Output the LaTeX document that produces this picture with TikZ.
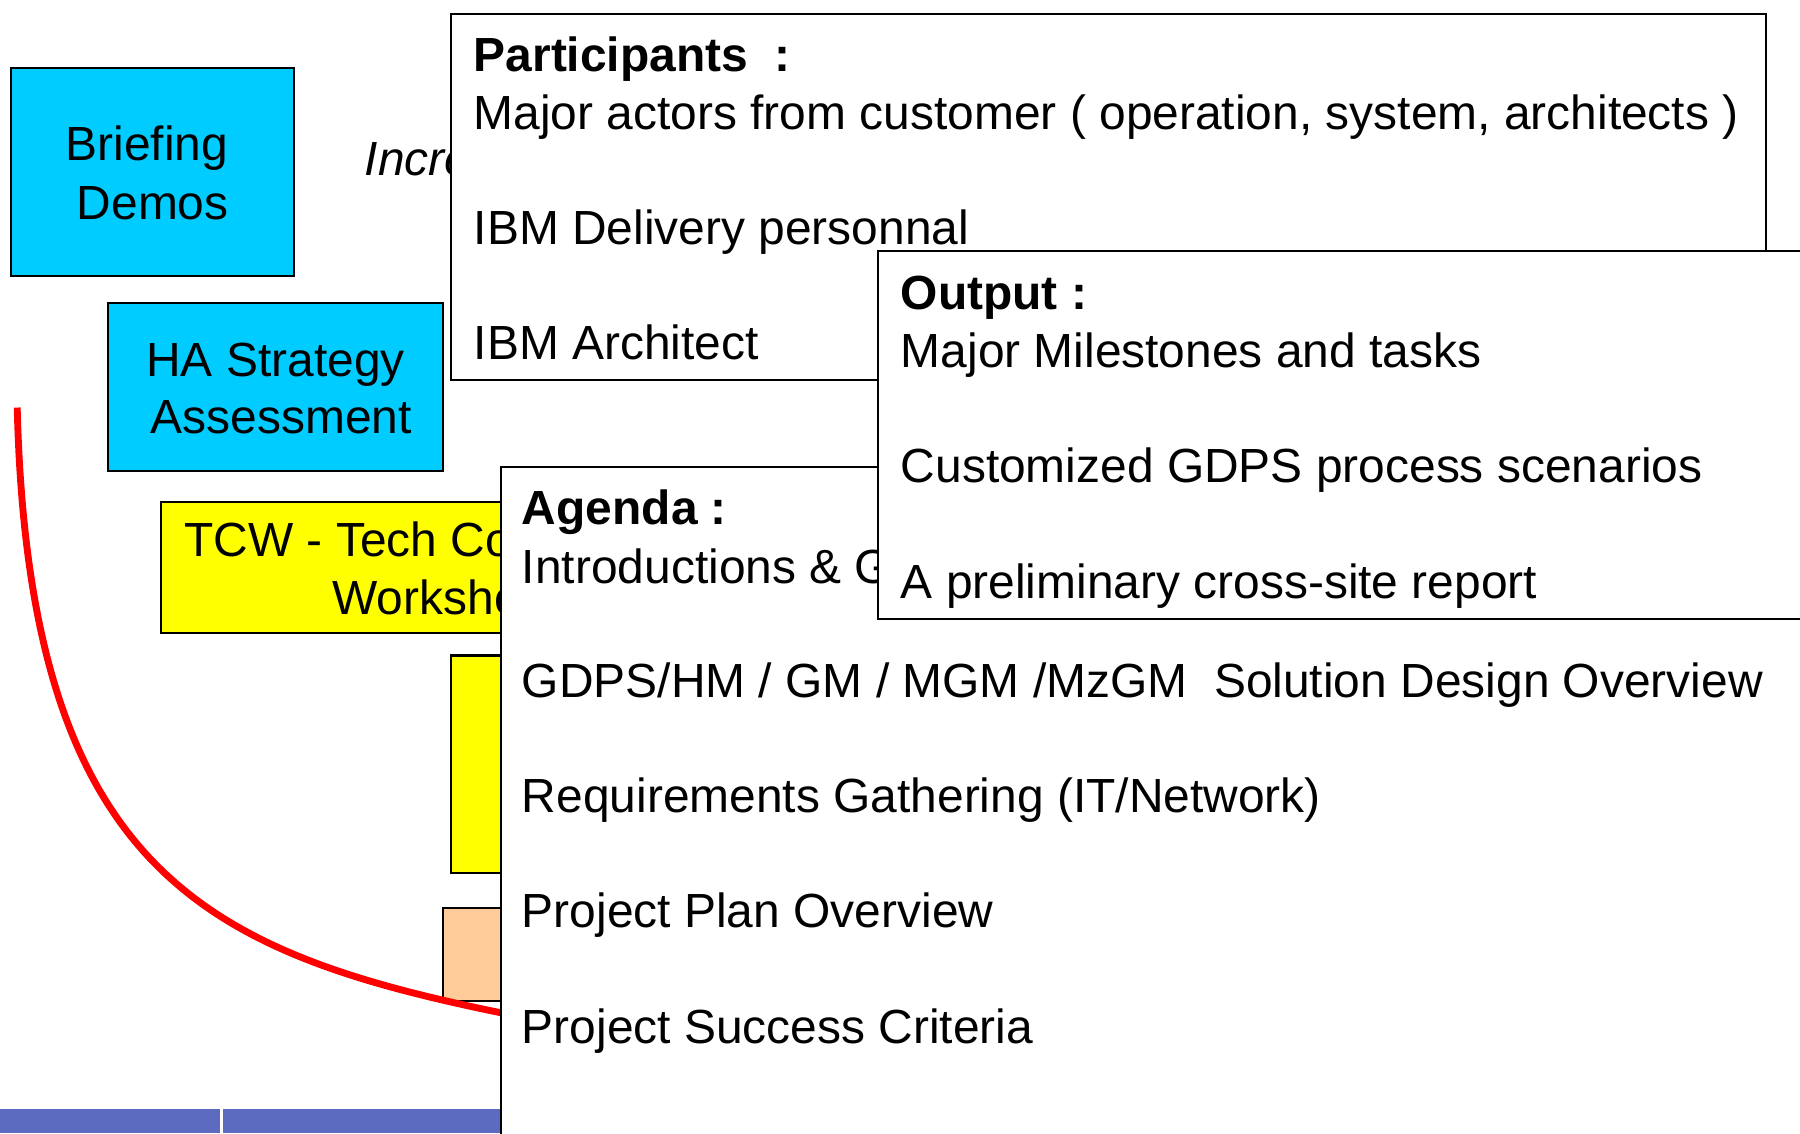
\documentclass[tikz,border=0pt]{standalone}
\usepackage{fontspec}
\setmainfont{Liberation Sans}
\definecolor{boxcyan}{RGB}{0,204,255}
\definecolor{boxyellow}{RGB}{255,255,0}
\definecolor{boxpeach}{RGB}{255,204,153}
\definecolor{barblue}{RGB}{92,106,192}
\definecolor{curvered}{RGB}{255,0,0}
\begin{document}
\begin{tikzpicture}[x=0.01cm,y=-0.01cm,
  stage/.style={draw=black, line width=0.5pt, anchor=north west, inner sep=0pt, outer sep=0pt},
  panel/.style={draw=black, fill=white, line width=0.5pt, anchor=north west, inner sep=0pt, outer sep=0pt},
  txt/.style={font=\fontsize{11.87pt}{14.23pt}\selectfont, inner sep=0pt, anchor=base west},
  ctxt/.style={txt, anchor=base},
  btxt/.style={txt, font=\fontsize{11.87pt}{14.23pt}\selectfont\bfseries},
  itxt/.style={txt, font=\fontsize{11.87pt}{14.23pt}\selectfont\itshape},
  redline/.style={draw=curvered, line width=1.7pt},
]
\useasboundingbox (0,0) rectangle (1568,987);
\clip (0,0) rectangle (1568,987);
\fill[white] (0,0) rectangle (1568,987);

% stage boxes
\node[stage, fill=boxcyan, minimum width=2.46cm, minimum height=1.81cm] (brief) at (10,59) {};
\node[ctxt] (brief1) at (128,140) {Briefing};
\node[ctxt] (brief2) at (133,191) {Demos};

\node[stage, fill=boxcyan, minimum width=2.92cm, minimum height=1.46cm] (ha) at (94,264) {};
\node[ctxt] (ha1) at (240,328) {HA Strategy};
\node[ctxt] (ha2) at (245,378) {Assessment};

\node[stage, fill=boxyellow, minimum width=4.78cm, minimum height=1.14cm] (tcw) at (140,437) {};
\node[txt] (tcw1) at (160,485) {TCW - Tech Consulting};
\node[txt] (tcw2) at (289,535) {Workshop};

\node[stage, fill=boxyellow, minimum width=3cm, minimum height=1.89cm] (yel) at (393,571) {};
\node[stage, fill=boxpeach, minimum width=3cm, minimum height=0.81cm] (peach) at (386,791) {};

% red curve
\coordinate (rs) at (15,355);
\coordinate (re) at (440,883);
\draw[redline] (rs) .. controls (25,760) and (180,830) .. (re);

% bottom bar
\fill[barblue] (0,966) rectangle (700,987);
\draw[white, line width=0.8pt] (193,966) -- (193,987);

\node[itxt] (incr) at (317,153) {Increasing};

% participants panel
\node[panel, minimum width=11.45cm, minimum height=3.19cm] (part) at (393,12) {};
\node[btxt] (p0) at (412,62) {Participants\ \ :};
\node[txt] (p1) at (412,113) {Major actors from customer ( operation, system, architects )};
\node[txt] (p2) at (412,213) {IBM Delivery personnal};
\node[txt] (p3) at (412,313) {IBM Architect};

% agenda panel
\node[panel, minimum width=12cm, minimum height=6.2cm] (agenda) at (436,407) {};
\node[btxt] (a0) at (454,457) {Agenda :};
\node[txt] (a1) at (454,508) {Introductions \& Goals};
\node[txt] (a2) at (454,608) {GDPS/HM / GM / MGM /MzGM\ \ Solution Design Overview};
\node[txt] (a3) at (454,708) {Requirements Gathering (IT/Network)};
\node[txt] (a4) at (454,808) {Project Plan Overview};
\node[txt] (a5) at (454,909) {Project Success Criteria};

% output panel
\node[panel, minimum width=9cm, minimum height=3.20cm] (out) at (765,219) {};
\node[btxt] (o0) at (784,270) {Output :};
\node[txt] (o1) at (784,320) {Major Milestones and tasks};
\node[txt] (o2) at (784,420) {Customized GDPS process scenarios};
\node[txt] (o3) at (784,521) {A preliminary cross-site report};
\end{tikzpicture}
\end{document}
